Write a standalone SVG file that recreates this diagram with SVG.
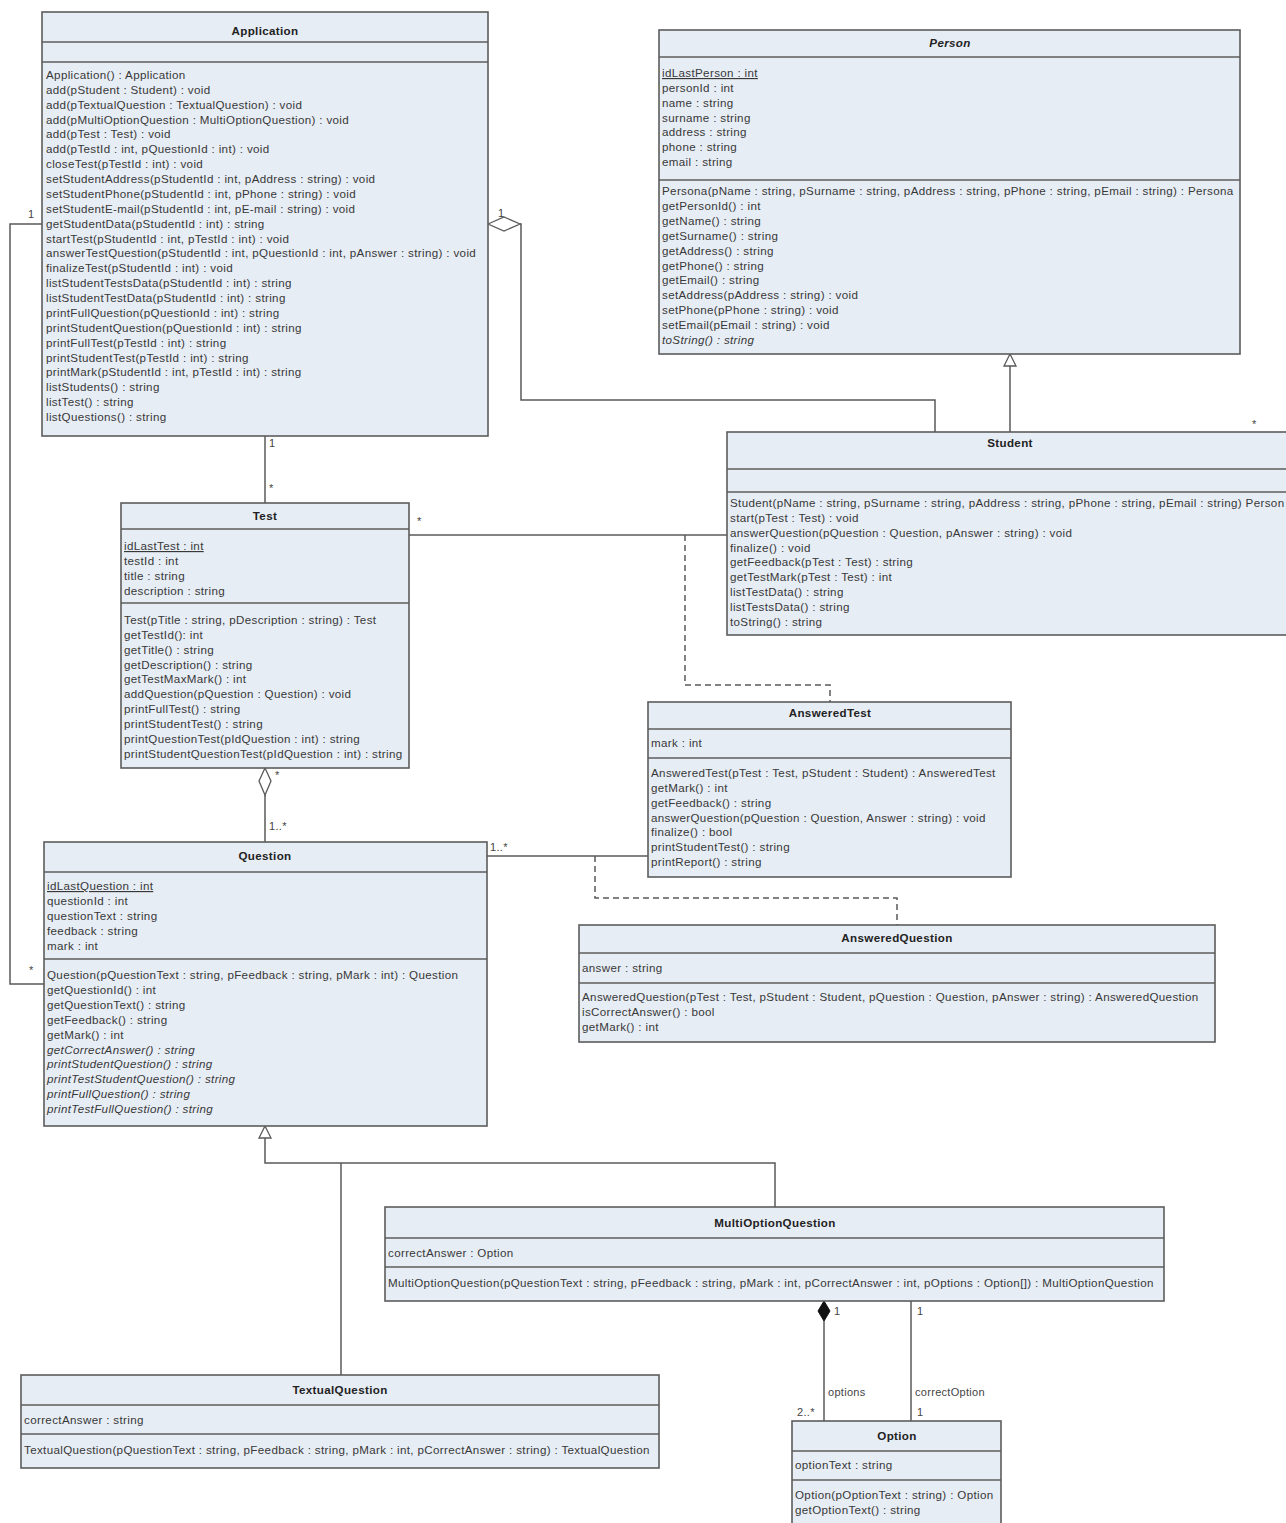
<svg xmlns="http://www.w3.org/2000/svg" width="1286" height="1523" viewBox="0 0 1286 1523">
  <style>
    .box { fill: #e7edf5; stroke: #5c5c5c; stroke-width: 1.6; }
    .sep { stroke: #5c5c5c; stroke-width: 1.6; }
    .t { font-family: "Liberation Sans", Arial, sans-serif; font-size: 11.6px; letter-spacing: 0.35px; fill: #383838; }
    .title { font-weight: bold; text-anchor: middle; fill: #222; }
    .u { text-decoration: underline; }
    .i { font-style: italic; }
    .edge { fill: none; stroke: #5a5a5a; stroke-width: 1.5; }
    .dash { stroke-dasharray: 6 4; }
    .hollow { fill: #ffffff; stroke: #5a5a5a; stroke-width: 1.3; }
    .solid { fill: #111111; stroke: #111111; stroke-width: 1; }
    .lbl { font-family: "Liberation Sans", Arial, sans-serif; font-size: 11px; letter-spacing: 0.3px; fill: #444; }
  </style>
  <rect width="1286" height="1523" fill="#ffffff"/>

  <!-- associations, generalizations and association-class links -->
  <g id="connectors">
    <!-- Application 1 — * Question -->
    <polyline class="edge" points="42,224 10,224 10,984 44,984"/>
    <text class="lbl" x="28" y="218">1</text>
    <text class="lbl" x="29" y="974">*</text>

    <!-- Application ◇— Student -->
    <polygon class="hollow" points="488,224 504,217 520,224 504,231"/>
    <polyline class="edge" points="520,224 521,224 521,400 935,400 935,432"/>
    <text class="lbl" x="498" y="217">1</text>
    <text class="lbl" x="1252" y="428">*</text>

    <!-- Student generalizes Person -->
    <line class="edge" x1="1010" y1="366" x2="1010" y2="432"/>
    <polygon class="hollow" points="1010,354 1016,366 1004,366"/>

    <!-- Application 1 — * Test -->
    <line class="edge" x1="265" y1="436" x2="265" y2="503"/>
    <text class="lbl" x="269" y="447">1</text>
    <text class="lbl" x="269" y="492">*</text>

    <!-- Test * — * Student, with AnsweredTest as association class -->
    <line class="edge" x1="409" y1="535" x2="727" y2="535"/>
    <text class="lbl" x="417" y="525">*</text>
    <polyline class="edge dash" points="685,535 685,685 830,685 830,702"/>

    <!-- Test ◇— Question -->
    <polygon class="hollow" points="265,768 271,781 265,795 259,781"/>
    <line class="edge" x1="265" y1="795" x2="265" y2="842"/>
    <text class="lbl" x="275" y="779">*</text>
    <text class="lbl" x="269" y="830">1..*</text>

    <!-- Question 1..* — AnsweredTest, with AnsweredQuestion as association class -->
    <line class="edge" x1="487" y1="856" x2="648" y2="856"/>
    <text class="lbl" x="490" y="851">1..*</text>
    <polyline class="edge dash" points="595,856 595,898 897,898 897,925"/>

    <!-- MultiOptionQuestion and TextualQuestion generalize Question -->
    <polyline class="edge" points="265,1138 265,1163 775,1163 775,1207"/>
    <line class="edge" x1="341" y1="1163" x2="341" y2="1375"/>
    <polygon class="hollow" points="265,1126 271,1138 259,1138"/>

    <!-- MultiOptionQuestion ◆— Option (options) -->
    <polygon class="solid" points="824,1301 830,1311 824,1321 818,1311"/>
    <line class="edge" x1="824" y1="1321" x2="824" y2="1421"/>
    <text class="lbl" x="834" y="1315">1</text>
    <text class="lbl" x="828" y="1396">options</text>
    <text class="lbl" x="797" y="1416">2..*</text>

    <!-- MultiOptionQuestion — Option (correctOption) -->
    <line class="edge" x1="911" y1="1301" x2="911" y2="1421"/>
    <text class="lbl" x="917" y="1315">1</text>
    <text class="lbl" x="915" y="1396">correctOption</text>
    <text class="lbl" x="917" y="1416">1</text>
  </g>

  <g id="Application">
    <rect class="box" x="42" y="12" width="446" height="424"/>
    <line class="sep" x1="42" y1="42" x2="488" y2="42"/>
    <line class="sep" x1="42" y1="62" x2="488" y2="62"/>
    <text class="t title" x="265" y="35">Application</text>
    <text class="t" x="46" y="79">
      <tspan x="46">Application() : Application</tspan>
      <tspan x="46" dy="14.87">add(pStudent : Student) : void</tspan>
      <tspan x="46" dy="14.87">add(pTextualQuestion : TextualQuestion) : void</tspan>
      <tspan x="46" dy="14.87">add(pMultiOptionQuestion : MultiOptionQuestion) : void</tspan>
      <tspan x="46" dy="14.87">add(pTest : Test) : void</tspan>
      <tspan x="46" dy="14.87">add(pTestId : int, pQuestionId : int) : void</tspan>
      <tspan x="46" dy="14.87">closeTest(pTestId : int) : void</tspan>
      <tspan x="46" dy="14.87">setStudentAddress(pStudentId : int, pAddress : string) : void</tspan>
      <tspan x="46" dy="14.87">setStudentPhone(pStudentId : int, pPhone : string) : void</tspan>
      <tspan x="46" dy="14.87">setStudentE-mail(pStudentId : int, pE-mail : string) : void</tspan>
      <tspan x="46" dy="14.87">getStudentData(pStudentId : int) : string</tspan>
      <tspan x="46" dy="14.87">startTest(pStudentId : int, pTestId : int) : void</tspan>
      <tspan x="46" dy="14.87">answerTestQuestion(pStudentId : int, pQuestionId : int, pAnswer : string) : void</tspan>
      <tspan x="46" dy="14.87">finalizeTest(pStudentId : int) : void</tspan>
      <tspan x="46" dy="14.87">listStudentTestsData(pStudentId : int) : string</tspan>
      <tspan x="46" dy="14.87">listStudentTestData(pStudentId : int) : string</tspan>
      <tspan x="46" dy="14.87">printFullQuestion(pQuestionId : int) : string</tspan>
      <tspan x="46" dy="14.87">printStudentQuestion(pQuestionId : int) : string</tspan>
      <tspan x="46" dy="14.87">printFullTest(pTestId : int) : string</tspan>
      <tspan x="46" dy="14.87">printStudentTest(pTestId : int) : string</tspan>
      <tspan x="46" dy="14.87">printMark(pStudentId : int, pTestId : int) : string</tspan>
      <tspan x="46" dy="14.87">listStudents() : string</tspan>
      <tspan x="46" dy="14.87">listTest() : string</tspan>
      <tspan x="46" dy="14.87">listQuestions() : string</tspan>
    </text>
  </g>

  <g id="Person">
    <rect class="box" x="659" y="30" width="581" height="324"/>
    <line class="sep" x1="659" y1="57" x2="1240" y2="57"/>
    <line class="sep" x1="659" y1="180" x2="1240" y2="180"/>
    <text class="t title i" x="950" y="47">Person</text>
    <text class="t" x="662" y="77">
      <tspan x="662" class="u">idLastPerson : int</tspan>
      <tspan x="662" dy="14.85">personId : int</tspan>
      <tspan x="662" dy="14.85">name : string</tspan>
      <tspan x="662" dy="14.85">surname : string</tspan>
      <tspan x="662" dy="14.85">address : string</tspan>
      <tspan x="662" dy="14.85">phone : string</tspan>
      <tspan x="662" dy="14.85">email : string</tspan>
    </text>
    <text class="t" x="662" y="195">
      <tspan x="662">Persona(pName : string, pSurname : string, pAddress : string, pPhone : string, pEmail : string) : Persona</tspan>
      <tspan x="662" dy="14.9">getPersonId() : int</tspan>
      <tspan x="662" dy="14.9">getName() : string</tspan>
      <tspan x="662" dy="14.9">getSurname() : string</tspan>
      <tspan x="662" dy="14.9">getAddress() : string</tspan>
      <tspan x="662" dy="14.9">getPhone() : string</tspan>
      <tspan x="662" dy="14.9">getEmail() : string</tspan>
      <tspan x="662" dy="14.9">setAddress(pAddress : string) : void</tspan>
      <tspan x="662" dy="14.9">setPhone(pPhone : string) : void</tspan>
      <tspan x="662" dy="14.9">setEmail(pEmail : string) : void</tspan>
      <tspan x="662" dy="14.9" class="i">toString() : string</tspan>
    </text>
  </g>

  <g id="Student">
    <rect class="box" x="727" y="432" width="565" height="203"/>
    <line class="sep" x1="727" y1="469" x2="1292" y2="469"/>
    <line class="sep" x1="727" y1="492" x2="1292" y2="492"/>
    <text class="t title" x="1010" y="447">Student</text>
    <text class="t" x="730" y="507">
      <tspan x="730">Student(pName : string, pSurname : string, pAddress : string, pPhone : string, pEmail : string) Person</tspan>
      <tspan x="730" dy="14.85">start(pTest : Test) : void</tspan>
      <tspan x="730" dy="14.85">answerQuestion(pQuestion : Question, pAnswer : string) : void</tspan>
      <tspan x="730" dy="14.85">finalize() : void</tspan>
      <tspan x="730" dy="14.85">getFeedback(pTest : Test) : string</tspan>
      <tspan x="730" dy="14.85">getTestMark(pTest : Test) : int</tspan>
      <tspan x="730" dy="14.85">listTestData() : string</tspan>
      <tspan x="730" dy="14.85">listTestsData() : string</tspan>
      <tspan x="730" dy="14.85">toString() : string</tspan>
    </text>
  </g>

  <g id="Test">
    <rect class="box" x="121" y="503" width="288" height="265"/>
    <line class="sep" x1="121" y1="529" x2="409" y2="529"/>
    <line class="sep" x1="121" y1="603" x2="409" y2="603"/>
    <text class="t title" x="265" y="520">Test</text>
    <text class="t" x="124" y="550">
      <tspan x="124" class="u">idLastTest : int</tspan>
      <tspan x="124" dy="14.9">testId : int</tspan>
      <tspan x="124" dy="14.9">title : string</tspan>
      <tspan x="124" dy="14.9">description : string</tspan>
    </text>
    <text class="t" x="124" y="624">
      <tspan x="124">Test(pTitle : string, pDescription : string) : Test</tspan>
      <tspan x="124" dy="14.85">getTestId(): int</tspan>
      <tspan x="124" dy="14.85">getTitle() : string</tspan>
      <tspan x="124" dy="14.85">getDescription() : string</tspan>
      <tspan x="124" dy="14.85">getTestMaxMark() : int</tspan>
      <tspan x="124" dy="14.85">addQuestion(pQuestion : Question) : void</tspan>
      <tspan x="124" dy="14.85">printFullTest() : string</tspan>
      <tspan x="124" dy="14.85">printStudentTest() : string</tspan>
      <tspan x="124" dy="14.85">printQuestionTest(pIdQuestion : int) : string</tspan>
      <tspan x="124" dy="14.85">printStudentQuestionTest(pIdQuestion : int) : string</tspan>
    </text>
  </g>

  <g id="AnsweredTest">
    <rect class="box" x="648" y="702" width="363" height="175"/>
    <line class="sep" x1="648" y1="729" x2="1011" y2="729"/>
    <line class="sep" x1="648" y1="758" x2="1011" y2="758"/>
    <text class="t title" x="830" y="717">AnsweredTest</text>
    <text class="t" x="651" y="747">mark : int</text>
    <text class="t" x="651" y="777">
      <tspan x="651">AnsweredTest(pTest : Test, pStudent : Student) : AnsweredTest</tspan>
      <tspan x="651" dy="14.85">getMark() : int</tspan>
      <tspan x="651" dy="14.85">getFeedback() : string</tspan>
      <tspan x="651" dy="14.85">answerQuestion(pQuestion : Question, Answer : string) : void</tspan>
      <tspan x="651" dy="14.85">finalize() : bool</tspan>
      <tspan x="651" dy="14.85">printStudentTest() : string</tspan>
      <tspan x="651" dy="14.85">printReport() : string</tspan>
    </text>
  </g>

  <g id="Question">
    <rect class="box" x="44" y="842" width="443" height="284"/>
    <line class="sep" x1="44" y1="872" x2="487" y2="872"/>
    <line class="sep" x1="44" y1="959" x2="487" y2="959"/>
    <text class="t title" x="265" y="860">Question</text>
    <text class="t" x="47" y="890">
      <tspan x="47" class="u">idLastQuestion : int</tspan>
      <tspan x="47" dy="14.9">questionId : int</tspan>
      <tspan x="47" dy="14.9">questionText : string</tspan>
      <tspan x="47" dy="14.9">feedback : string</tspan>
      <tspan x="47" dy="14.9">mark : int</tspan>
    </text>
    <text class="t" x="47" y="979">
      <tspan x="47">Question(pQuestionText : string, pFeedback : string, pMark : int) : Question</tspan>
      <tspan x="47" dy="14.9">getQuestionId() : int</tspan>
      <tspan x="47" dy="14.9">getQuestionText() : string</tspan>
      <tspan x="47" dy="14.9">getFeedback() : string</tspan>
      <tspan x="47" dy="14.9">getMark() : int</tspan>
      <tspan x="47" dy="14.9" class="i">getCorrectAnswer() : string</tspan>
      <tspan x="47" dy="14.9" class="i">printStudentQuestion() : string</tspan>
      <tspan x="47" dy="14.9" class="i">printTestStudentQuestion() : string</tspan>
      <tspan x="47" dy="14.9" class="i">printFullQuestion() : string</tspan>
      <tspan x="47" dy="14.9" class="i">printTestFullQuestion() : string</tspan>
    </text>
  </g>

  <g id="AnsweredQuestion">
    <rect class="box" x="579" y="925" width="636" height="117"/>
    <line class="sep" x1="579" y1="953" x2="1215" y2="953"/>
    <line class="sep" x1="579" y1="983" x2="1215" y2="983"/>
    <text class="t title" x="897" y="942">AnsweredQuestion</text>
    <text class="t" x="582" y="972">answer : string</text>
    <text class="t" x="582" y="1001">
      <tspan x="582">AnsweredQuestion(pTest : Test, pStudent : Student, pQuestion : Question, pAnswer : string) : AnsweredQuestion</tspan>
      <tspan x="582" dy="14.9">isCorrectAnswer() : bool</tspan>
      <tspan x="582" dy="14.9">getMark() : int</tspan>
    </text>
  </g>

  <g id="MultiOptionQuestion">
    <rect class="box" x="385" y="1207" width="779" height="94"/>
    <line class="sep" x1="385" y1="1238" x2="1164" y2="1238"/>
    <line class="sep" x1="385" y1="1267" x2="1164" y2="1267"/>
    <text class="t title" x="775" y="1227">MultiOptionQuestion</text>
    <text class="t" x="388" y="1257">correctAnswer : Option</text>
    <text class="t" x="388" y="1287">MultiOptionQuestion(pQuestionText : string, pFeedback : string, pMark : int, pCorrectAnswer : int, pOptions : Option[]) : MultiOptionQuestion</text>
  </g>

  <g id="TextualQuestion">
    <rect class="box" x="21" y="1375" width="638" height="93"/>
    <line class="sep" x1="21" y1="1405" x2="659" y2="1405"/>
    <line class="sep" x1="21" y1="1434" x2="659" y2="1434"/>
    <text class="t title" x="340" y="1394">TextualQuestion</text>
    <text class="t" x="24" y="1424">correctAnswer : string</text>
    <text class="t" x="24" y="1454">TextualQuestion(pQuestionText : string, pFeedback : string, pMark : int, pCorrectAnswer : string) : TextualQuestion</text>
  </g>

  <g id="Option">
    <rect class="box" x="792" y="1421" width="209" height="106"/>
    <line class="sep" x1="792" y1="1451" x2="1001" y2="1451"/>
    <line class="sep" x1="792" y1="1480" x2="1001" y2="1480"/>
    <text class="t title" x="897" y="1440">Option</text>
    <text class="t" x="795" y="1469">optionText : string</text>
    <text class="t" x="795" y="1499">
      <tspan x="795">Option(pOptionText : string) : Option</tspan>
      <tspan x="795" dy="14.9">getOptionText() : string</tspan>
    </text>
  </g>
</svg>
